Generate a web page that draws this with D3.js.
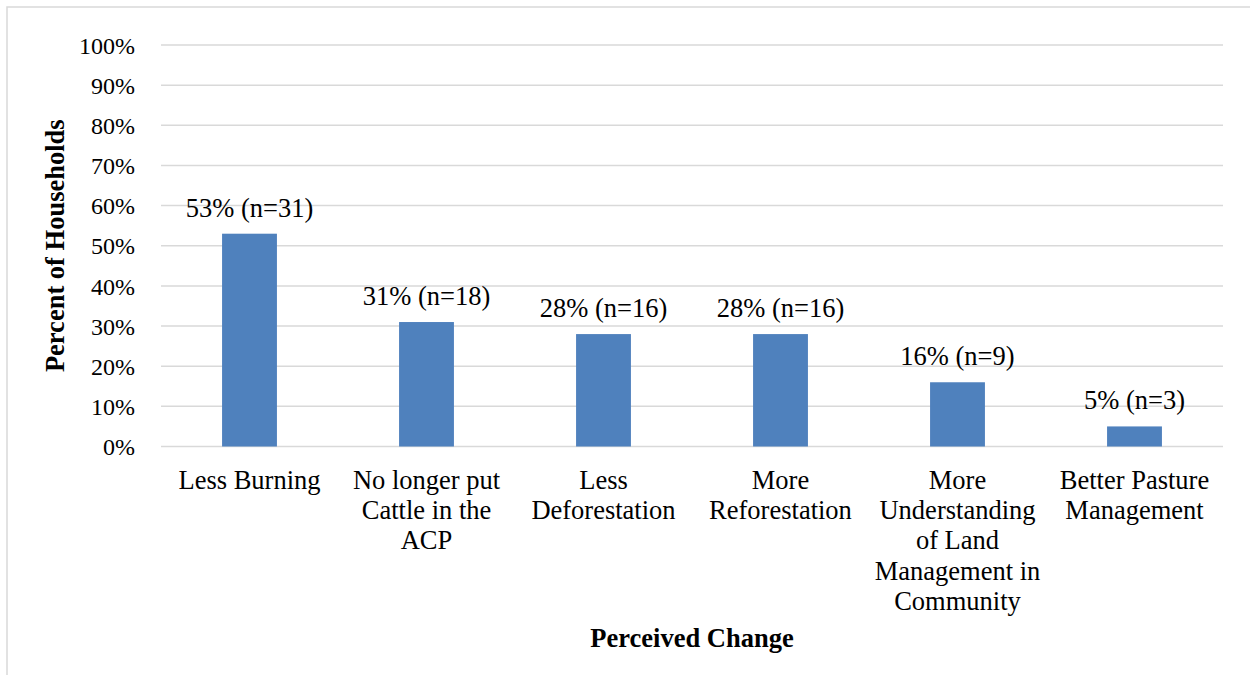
<!DOCTYPE html>
<html>
<head>
<meta charset="utf-8">
<script src="https://cdn.jsdelivr.net/npm/d3@7"></script>
<style>
  html, body { margin: 0; padding: 0; background: #fff; }
  svg { display: block; }
  svg text { font-family: "Liberation Serif", "Times New Roman", serif; }
</style>
</head>
<body>
<svg id="chart" width="1250" height="675"></svg>
<script>
// Perceived changes reported by households
const categories = [
  "Less Burning",
  "No longer put Cattle in the ACP",
  "Less Deforestation",
  "More Reforestation",
  "More Understanding of Land Management in Community",
  "Better Pasture Management"
];
const categoryLines = [
  ["Less Burning"],
  ["No longer put", "Cattle in the", "ACP"],
  ["Less", "Deforestation"],
  ["More", "Reforestation"],
  ["More", "Understanding", "of Land", "Management in", "Community"],
  ["Better Pasture", "Management"]
];
const percents = [53, 31, 28, 28, 16, 5];
const counts = [31, 18, 16, 16, 9, 3];
const yTicks = [0, 10, 20, 30, 40, 50, 60, 70, 80, 90, 100];

const svg = d3.select("#chart");

// outer frame
svg.append("rect")
  .attr("x", 7).attr("y", 7)
  .attr("width", 1260).attr("height", 700)
  .attr("fill", "none").attr("stroke", "#d9d9d9").attr("stroke-width", 1.5);

const plot = { left: 161, right: 1223, top: 45, bottom: 446.5 };

const x = d3.scaleBand()
  .domain(categories)
  .range([plot.left, plot.right])
  .paddingInner(0.69)
  .paddingOuter(0.345);

const y = d3.scaleLinear().domain([0, 100]).range([plot.bottom, plot.top]);

// gridlines
svg.append("g")
  .selectAll("line")
  .data(yTicks)
  .join("line")
  .attr("x1", plot.left).attr("x2", plot.right)
  .attr("y1", d => y(d)).attr("y2", d => y(d))
  .attr("stroke", "#d9d9d9").attr("stroke-width", 1.5);

// y axis labels
const yAxis = d3.axisLeft(y).tickValues(yTicks).tickFormat(d => d + "%").tickSize(0).tickPadding(0);
const yg = svg.append("g").attr("transform", `translate(${plot.left - 26},0)`).call(yAxis);
yg.select(".domain").remove();
yg.attr("font-family", null).attr("font-size", null);
yg.selectAll("text")
  .style("font-size", "24px").attr("fill", "#000").attr("dy", "0.34em");

// bars
svg.append("g")
  .selectAll("rect")
  .data(categories)
  .join("rect")
  .attr("x", d => x(d))
  .attr("width", x.bandwidth())
  .attr("y", (d, i) => y(percents[i]))
  .attr("height", (d, i) => y(0) - y(percents[i]))
  .attr("fill", "#4f81bd");

// value labels
svg.append("g")
  .selectAll("text")
  .data(categories)
  .join("text")
  .attr("x", d => x(d) + x.bandwidth() / 2)
  .attr("y", (d, i) => y(percents[i]) - 17)
  .attr("text-anchor", "middle")
  .style("font-size", "26.5px")
  .attr("fill", "#000")
  .text((d, i) => `${percents[i]}% (n=${counts[i]})`);

// category labels
const cl = svg.append("g");
categories.forEach((c, i) => {
  const t = cl.append("text")
    .attr("x", x(c) + x.bandwidth() / 2)
    .attr("y", 489)
    .attr("text-anchor", "middle")
    .style("font-size", "26.5px")
    .attr("fill", "#000");
  categoryLines[i].forEach((line, j) => {
    t.append("tspan")
      .attr("x", x(c) + x.bandwidth() / 2)
      .attr("y", 489 + j * 30.2)
      .text(line);
  });
});

// axis titles
svg.append("text")
  .attr("x", (plot.left + plot.right) / 2)
  .attr("y", 647)
  .attr("text-anchor", "middle")
  .style("font-size", "26.5px").attr("font-weight", "bold")
  .text("Perceived Change");

svg.append("text")
  .attr("transform", `translate(64,${(plot.top + plot.bottom) / 2}) rotate(-90)`)
  .attr("text-anchor", "middle")
  .style("font-size", "26.5px").attr("font-weight", "bold")
  .text("Percent of Households");
</script>
</body>
</html>
